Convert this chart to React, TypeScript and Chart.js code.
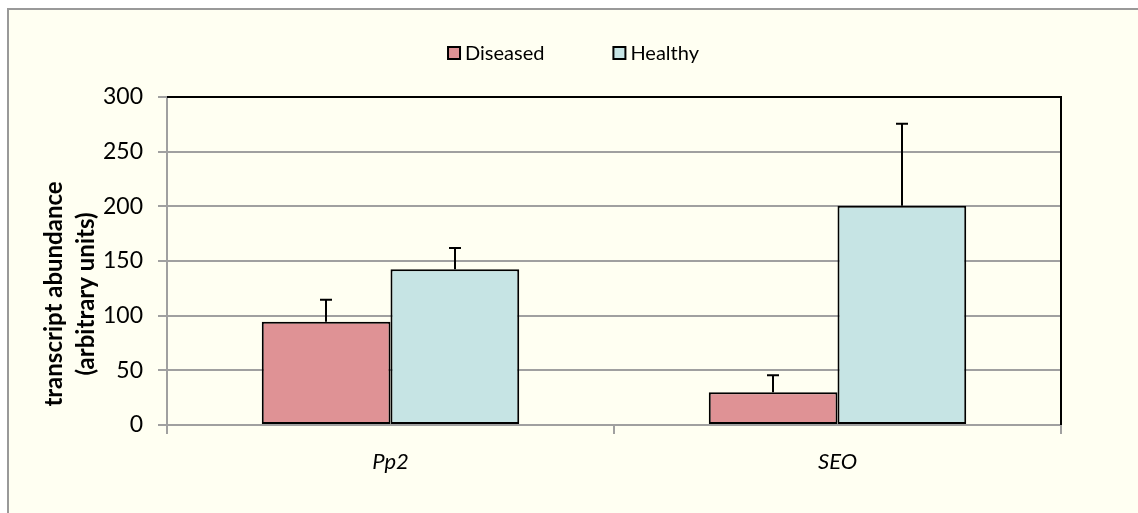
import React, { useEffect, useRef } from "react";
import { Chart, registerables } from "chart.js";

Chart.register(...registerables);

const categories = ["Pp2", "SEO"];
const seriesNames = ["Diseased", "Healthy"];
const diseasedValues = [94.5, 30];
const healthyValues = [142.5, 200.5];
const diseasedErrors = [20, 15.5];
const healthyErrors = [19.5, 75];
const yTicks = [0, 50, 100, 150, 200, 250, 300];
const yTitle = ["transcript abundance", "(arbitrary units)"];

const FONT = "Lato, 'Open Sans', sans-serif";
const GRID = "#A0A0A0";

const errorBarPlugin = {
  id: "errorBars",
  afterDatasetsDraw(chart: any) {
    const { ctx } = chart;
    const yScale = chart.scales.y;
    chart.data.datasets.forEach((ds: any, i: number) => {
      const meta = chart.getDatasetMeta(i);
      const errs: number[] = ds.errors || [];
      meta.data.forEach((el: any, j: number) => {
        const v = ds.data[j];
        const e = errs[j] || 0;
        const yTop = yScale.getPixelForValue(v + e);
        const x = Math.round(el.x);
        ctx.save();
        ctx.strokeStyle = "#000";
        ctx.lineWidth = 2;
        ctx.beginPath();
        ctx.moveTo(x, el.y);
        ctx.lineTo(x, yTop);
        ctx.moveTo(x - 6, yTop);
        ctx.lineTo(x + 6, yTop);
        ctx.stroke();
        ctx.restore();
      });
    });
  },
};

const frameAndLegendPlugin = {
  id: "frameAndLegend",
  afterDraw(chart: any) {
    const { ctx, chartArea } = chart;
    ctx.save();
    // black plot-area border on top and right
    ctx.strokeStyle = "#000";
    ctx.lineWidth = 2;
    ctx.beginPath();
    ctx.moveTo(chartArea.left, chartArea.top);
    ctx.lineTo(chartArea.right, chartArea.top);
    ctx.lineTo(chartArea.right, chartArea.bottom);
    ctx.stroke();

    // y axis title (two lines, rotated)
    ctx.save();
    ctx.font = `bold 24px ${FONT}`;
    ctx.fillStyle = "#000";
    ctx.textAlign = "center";
    ctx.textBaseline = "middle";
    const titleCy = (chartArea.top + chartArea.bottom) / 2 + 33;
    const lineXs = [45, 77];
    yTitle.forEach((t, i) => {
      ctx.save();
      ctx.translate(lineXs[i], titleCy);
      ctx.rotate(-Math.PI / 2);
      ctx.fillText(t, 0, 0);
      ctx.restore();
    });
    ctx.restore();

    // legend
    ctx.font = `20px ${FONT}`;
    const box = 12;
    const gap = 5;
    const spacing = 69;
    const items = chart.data.datasets.map((ds: any) => ({
      label: ds.label,
      color: ds.backgroundColor,
      w: box + gap + ctx.measureText(ds.label).width,
    }));
    const total =
      items.reduce((s: number, it: any) => s + it.w, 0) +
      spacing * (items.length - 1);
    let x = chart.width / 2 - total / 2;
    const cy = 43;
    items.forEach((it: any) => {
      ctx.fillStyle = it.color;
      ctx.fillRect(x, cy - box / 2, box, box);
      ctx.strokeStyle = "#000";
      ctx.lineWidth = 2;
      ctx.strokeRect(x, cy - box / 2, box, box);
      ctx.fillStyle = "#000";
      ctx.textBaseline = "middle";
      ctx.textAlign = "left";
      ctx.fillText(it.label, x + box + gap, cy + 1);
      x += it.w + spacing;
    });
    ctx.restore();
  },
};

export default function App() {
  const canvasRef = useRef<HTMLCanvasElement | null>(null);

  useEffect(() => {
    document.body.style.overflow = "hidden";
    const canvas = canvasRef.current;
    if (!canvas) return;
    const chart = new Chart(canvas, {
      type: "bar",
      data: {
        labels: categories,
        datasets: [
          {
            label: seriesNames[0],
            data: diseasedValues,
            errors: diseasedErrors,
            backgroundColor: "#DF9295",
            borderColor: "#000",
            borderWidth: 2,
            borderSkipped: false,
            categoryPercentage: 0.576,
            barPercentage: 1,
          } as any,
          {
            label: seriesNames[1],
            data: healthyValues,
            errors: healthyErrors,
            backgroundColor: "#C6E4E4",
            borderColor: "#000",
            borderWidth: 2,
            borderSkipped: false,
            categoryPercentage: 0.576,
            barPercentage: 1,
          } as any,
        ],
      },
      options: {
        animation: false,
        responsive: false,
        maintainAspectRatio: false,
        layout: { padding: { top: 87, right: 77, bottom: 0, left: 0 } },
        plugins: {
          legend: { display: false },
          tooltip: { enabled: false },
        },
        scales: {
          x: {
            grid: {
              offset: true,
              drawOnChartArea: false,
              drawTicks: true,
              tickLength: 9,
              color: GRID,
              lineWidth: 2,
            },
            border: { display: true, color: GRID, width: 2 },
            ticks: {
              color: "#000",
              padding: 15,
              font: { family: FONT, size: 22, style: "italic" },
            },
            afterFit(scale: any) {
              scale.height = 88;
            },
          },
          y: {
            min: 0,
            max: 300,
            afterBuildTicks(scale: any) {
              scale.ticks = yTicks.map((v) => ({ value: v }));
            },
            grid: {
              color: GRID,
              lineWidth: 2,
              drawTicks: true,
              tickLength: 9,
            },
            border: { display: true, color: GRID, width: 2 },
            ticks: {
              color: "#000",
              padding: 15,
              font: { family: FONT, size: 23 },
            },
            afterFit(scale: any) {
              scale.width = 158;
            },
          },
        },
      },
      plugins: [errorBarPlugin, frameAndLegendPlugin],
    } as any);
    return () => chart.destroy();
  }, []);

  return (
    <div
      style={{
        position: "absolute",
        left: 7,
        top: 8,
        width: 1129,
        height: 503,
        borderLeft: "2px solid #999999",
        borderTop: "2px solid #999999",
        background: "#FFFFF2",
      }}
    >
      <canvas
        ref={canvasRef}
        width={1129}
        height={503}
        style={{ display: "block", width: 1129, height: 503 }}
      />
    </div>
  );
}
